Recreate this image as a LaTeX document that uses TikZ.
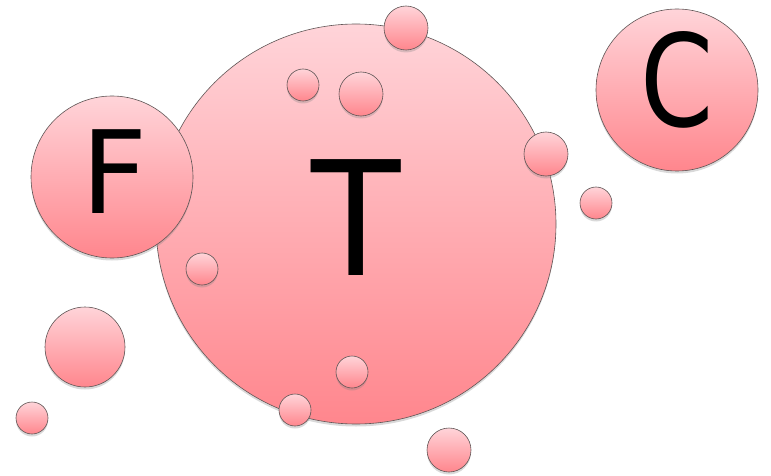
\documentclass[tikz,border=0pt]{standalone}
\usepackage{fontspec}
\setmainfont{DejaVu Sans}
\usetikzlibrary{shadows}
\definecolor{pinktop}{RGB}{255,212,217}
\definecolor{pinkbot}{RGB}{255,134,141}
\definecolor{rimgray}{RGB}{95,85,85}
\tikzset{
  bubble/.style={circle, inner sep=0pt, minimum size=#1, draw=rimgray, line width=0.6pt,
    top color=pinktop, bottom color=pinkbot,
    drop shadow={opacity=0.3, shadow xshift=0pt, shadow yshift=-2.5pt}},
  letter/.style={anchor=base, inner sep=0pt, text=black}
}
\begin{document}
\begin{tikzpicture}[x=1pt,y=-1pt]
\useasboundingbox (0,0) rectangle (771,476);
\node[bubble=400pt] (T) at (356,224) {};
\node[bubble=162pt] (F) at (112,177) {};
\node[bubble=162pt] (C) at (677,90) {};
\node[bubble=44pt] (b1) at (406,28) {};
\node[bubble=32pt] (b2) at (303,85) {};
\node[bubble=44pt] (b3) at (361,94) {};
\node[bubble=44pt] (b4) at (546,154) {};
\node[bubble=32pt] (b5) at (596,203) {};
\node[bubble=32pt] (b6) at (202,269) {};
\node[bubble=80pt] (b7) at (85,347) {};
\node[bubble=32pt] (b8) at (32,418) {};
\node[bubble=32pt] (b9) at (352,372) {};
\node[bubble=32pt] (b10) at (295,410) {};
\node[bubble=44pt] (b11) at (449,450) {};
\node[letter, font=\fontsize{159}{159}\selectfont] (tT) at (356,275) {\scalebox{0.92}[1]{T}};
\node[letter, font=\fontsize{115}{115}\selectfont] (tF) at (115,213) {F};
\node[letter, font=\fontsize{128}{128}\selectfont] (tC) at (677,127) {\scalebox{0.82}[1]{C}};
\end{tikzpicture}
\end{document}
